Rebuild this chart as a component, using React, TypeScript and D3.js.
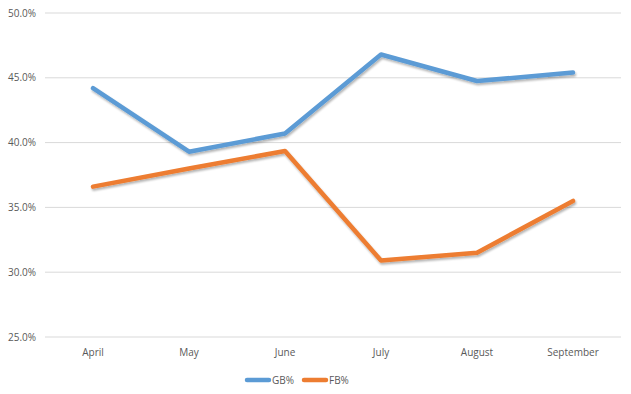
import React from "react";
import * as d3 from "d3";

const months = ["April", "May", "June", "July", "August", "September"];
const gbValues = [44.2, 39.3, 40.7, 46.8, 44.75, 45.4];
const fbValues = [36.6, 38.0, 39.35, 30.9, 31.5, 35.5];
const yTicks = [25, 30, 35, 40, 45, 50];
const seriesNames = ["GB%", "FB%"];
const seriesColors = ["#5B9BD5", "#ED7D31"];

export default function App() {
  const W = 631, H = 394;
  const left = 45, right = 621, top = 13, bottom = 337;
  const x = d3.scaleBand<string>().domain(months).range([left, right]);
  const y = d3.scaleLinear().domain([25, 50]).range([bottom, top]);
  const line = d3
    .line<number>()
    .x((_, i) => (x(months[i]) as number) + x.bandwidth() / 2)
    .y((d) => y(d));
  const font = "'Open Sans', 'Liberation Sans', sans-serif";
  const series = [gbValues, fbValues];
  const legendX = [247, 304];
  return (
    <div style={{ position: "absolute", left: 0, top: 0 }}>
      <svg width={W} height={H} style={{ display: "block", background: "#fff" }}>
        <defs>
          <filter id="sh" x="-10%" y="-10%" width="120%" height="130%">
            <feGaussianBlur in="SourceAlpha" stdDeviation="1" />
            <feOffset dx="0.5" dy="1.5" result="o" />
            <feComponentTransfer>
              <feFuncA type="linear" slope="0.3" />
            </feComponentTransfer>
            <feMerge>
              <feMergeNode />
              <feMergeNode in="SourceGraphic" />
            </feMerge>
          </filter>
        </defs>
        {yTicks.map((t) => (
          <g key={t}>
            <line x1={left} x2={right} y1={y(t)} y2={y(t)} stroke="#d9d9d9" strokeWidth={1} />
            <text
              x={36}
              y={y(t)}
              dy="0.35em"
              textAnchor="end"
              fontFamily={font}
              fontSize={10}
              fill="#595959"
            >
              {t.toFixed(1) + "%"}
            </text>
          </g>
        ))}
        {months.map((m) => (
          <text
            key={m}
            x={(x(m) as number) + x.bandwidth() / 2}
            y={356}
            textAnchor="middle"
            fontFamily={font}
            fontSize={10}
            fill="#595959"
          >
            {m}
          </text>
        ))}
        {series.map((s, i) => (
          <path
            key={i}
            d={line(s) || ""}
            fill="none"
            stroke={seriesColors[i]}
            strokeWidth={4.5}
            strokeLinejoin="round"
            strokeLinecap="round"
            filter="url(#sh)"
          />
        ))}
        {seriesNames.map((n, i) => (
          <g key={n}>
            <line
              x1={legendX[i]}
              x2={legendX[i] + 22}
              y1={380}
              y2={380}
              stroke={seriesColors[i]}
              strokeWidth={4.5}
              strokeLinecap="round"
            />
            <text
              x={legendX[i] + 25}
              y={380}
              dy="0.35em"
              fontFamily={font}
              fontSize={10}
              fill="#595959"
            >
              {n}
            </text>
          </g>
        ))}
      </svg>
    </div>
  );
}
